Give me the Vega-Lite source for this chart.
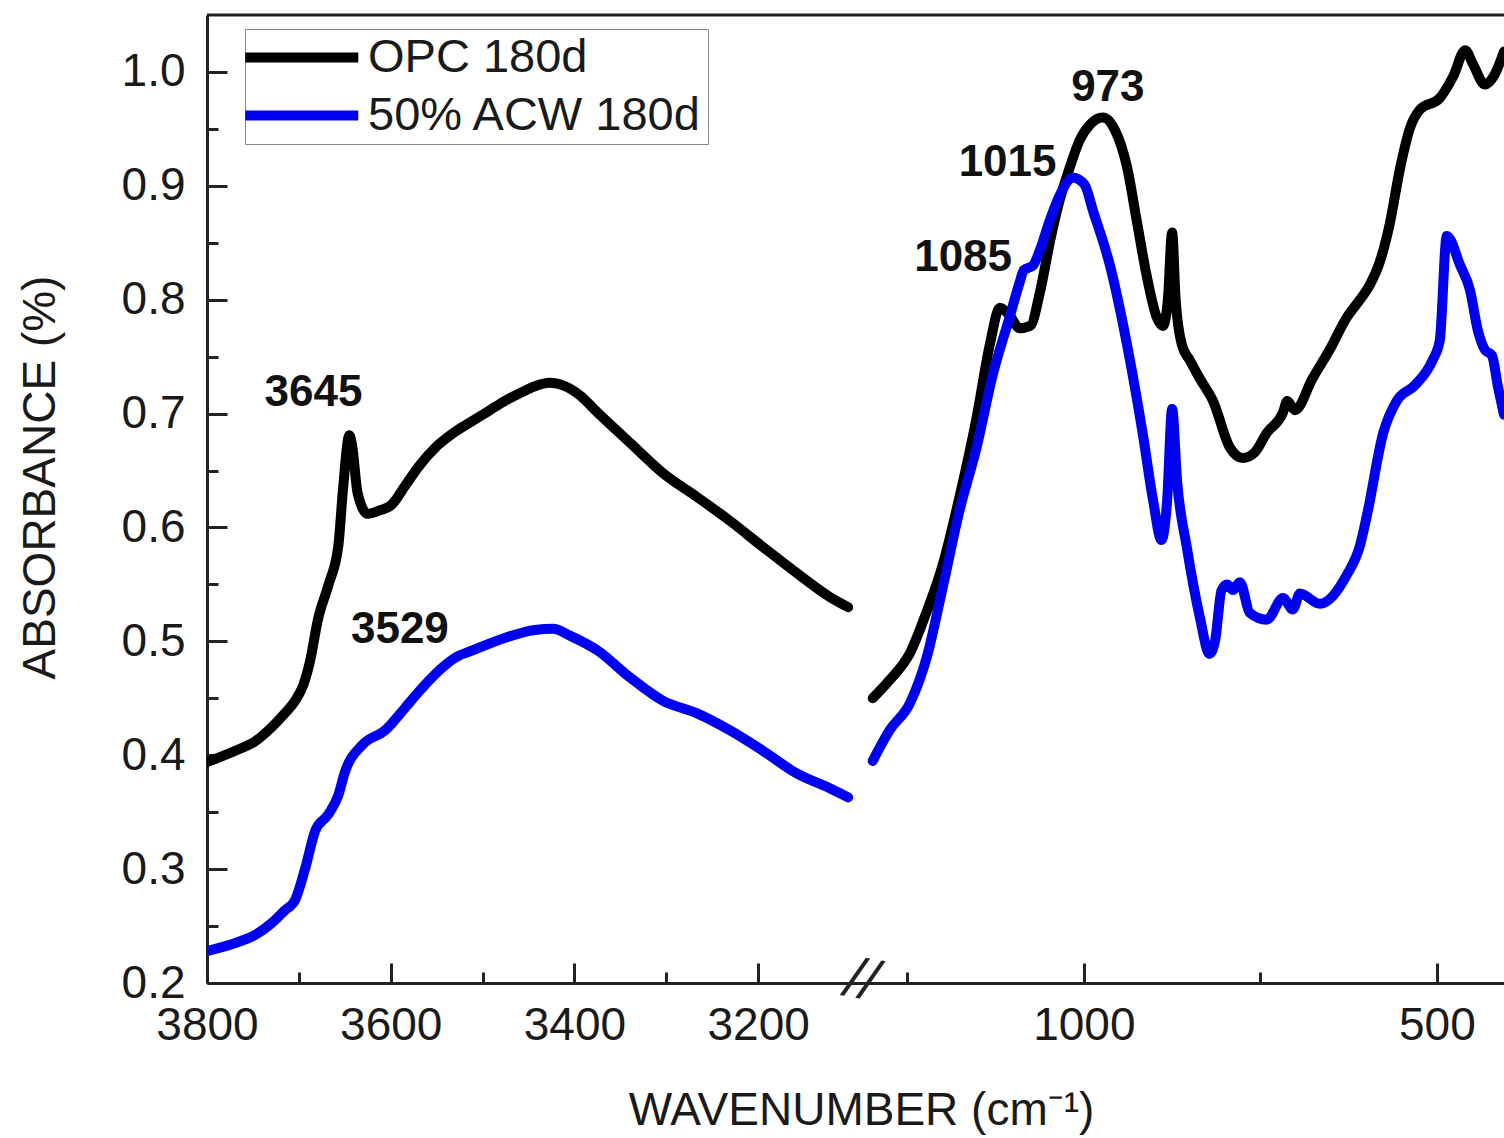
{
  "$schema": "https://vega.github.io/schema/vega-lite/v6.json",
  "width": 1297,
  "height": 968,
  "autosize": {"type": "none"},
  "padding": {"left": 207, "top": 15, "right": 0, "bottom": 155},
  "background": "white",
  "config": {
    "view": {"stroke": null},
    "font": "Liberation Sans",
    "axis": {
      "domainColor": "#222",
      "domainWidth": 3,
      "tickColor": "#222",
      "tickWidth": 3,
      "grid": false,
      "labelFont": "Liberation Sans",
      "labelFontSize": 46,
      "labelColor": "#1a1a1a",
      "titleFont": "Liberation Sans",
      "titleFontSize": 46,
      "titleFontWeight": "normal",
      "titleColor": "#1a1a1a",
      "labelOverlap": false,
      "labelFlush": false,
      "labelBound": false
    }
  },
  "datasets": {
    "spectra": [
      {"s": "OPC 180d", "r": "hi", "wn": 3800, "a": 0.394},
      {"s": "OPC 180d", "r": "hi", "wn": 3766, "a": 0.405},
      {"s": "OPC 180d", "r": "hi", "wn": 3748, "a": 0.412},
      {"s": "OPC 180d", "r": "hi", "wn": 3729, "a": 0.425},
      {"s": "OPC 180d", "r": "hi", "wn": 3715, "a": 0.437},
      {"s": "OPC 180d", "r": "hi", "wn": 3704, "a": 0.448},
      {"s": "OPC 180d", "r": "hi", "wn": 3695, "a": 0.462},
      {"s": "OPC 180d", "r": "hi", "wn": 3688, "a": 0.482},
      {"s": "OPC 180d", "r": "hi", "wn": 3679, "a": 0.52},
      {"s": "OPC 180d", "r": "hi", "wn": 3668, "a": 0.549},
      {"s": "OPC 180d", "r": "hi", "wn": 3657, "a": 0.584},
      {"s": "OPC 180d", "r": "hi", "wn": 3652, "a": 0.633},
      {"s": "OPC 180d", "r": "hi", "wn": 3645, "a": 0.681},
      {"s": "OPC 180d", "r": "hi", "wn": 3642, "a": 0.672},
      {"s": "OPC 180d", "r": "hi", "wn": 3636, "a": 0.63},
      {"s": "OPC 180d", "r": "hi", "wn": 3625, "a": 0.612},
      {"s": "OPC 180d", "r": "hi", "wn": 3612, "a": 0.615},
      {"s": "OPC 180d", "r": "hi", "wn": 3599, "a": 0.62},
      {"s": "OPC 180d", "r": "hi", "wn": 3584, "a": 0.637},
      {"s": "OPC 180d", "r": "hi", "wn": 3570, "a": 0.653},
      {"s": "OPC 180d", "r": "hi", "wn": 3549, "a": 0.672},
      {"s": "OPC 180d", "r": "hi", "wn": 3530, "a": 0.684},
      {"s": "OPC 180d", "r": "hi", "wn": 3512, "a": 0.693},
      {"s": "OPC 180d", "r": "hi", "wn": 3492, "a": 0.703},
      {"s": "OPC 180d", "r": "hi", "wn": 3476, "a": 0.711},
      {"s": "OPC 180d", "r": "hi", "wn": 3459, "a": 0.718},
      {"s": "OPC 180d", "r": "hi", "wn": 3443, "a": 0.724},
      {"s": "OPC 180d", "r": "hi", "wn": 3427, "a": 0.727},
      {"s": "OPC 180d", "r": "hi", "wn": 3410, "a": 0.724},
      {"s": "OPC 180d", "r": "hi", "wn": 3394, "a": 0.716},
      {"s": "OPC 180d", "r": "hi", "wn": 3375, "a": 0.701},
      {"s": "OPC 180d", "r": "hi", "wn": 3339, "a": 0.674},
      {"s": "OPC 180d", "r": "hi", "wn": 3304, "a": 0.648},
      {"s": "OPC 180d", "r": "hi", "wn": 3267, "a": 0.627},
      {"s": "OPC 180d", "r": "hi", "wn": 3231, "a": 0.606},
      {"s": "OPC 180d", "r": "hi", "wn": 3195, "a": 0.583},
      {"s": "OPC 180d", "r": "hi", "wn": 3158, "a": 0.56},
      {"s": "OPC 180d", "r": "hi", "wn": 3122, "a": 0.539},
      {"s": "OPC 180d", "r": "hi", "wn": 3102, "a": 0.53},
      {"s": "OPC 180d", "r": "lo", "wn": 1299, "a": 0.45},
      {"s": "OPC 180d", "r": "lo", "wn": 1275, "a": 0.466},
      {"s": "OPC 180d", "r": "lo", "wn": 1246, "a": 0.49},
      {"s": "OPC 180d", "r": "lo", "wn": 1222, "a": 0.527},
      {"s": "OPC 180d", "r": "lo", "wn": 1200, "a": 0.567},
      {"s": "OPC 180d", "r": "lo", "wn": 1176, "a": 0.627},
      {"s": "OPC 180d", "r": "lo", "wn": 1152, "a": 0.696},
      {"s": "OPC 180d", "r": "lo", "wn": 1133, "a": 0.761},
      {"s": "OPC 180d", "r": "lo", "wn": 1119, "a": 0.793},
      {"s": "OPC 180d", "r": "lo", "wn": 1105, "a": 0.786},
      {"s": "OPC 180d", "r": "lo", "wn": 1091, "a": 0.775},
      {"s": "OPC 180d", "r": "lo", "wn": 1076, "a": 0.777},
      {"s": "OPC 180d", "r": "lo", "wn": 1062, "a": 0.807},
      {"s": "OPC 180d", "r": "lo", "wn": 1048, "a": 0.851},
      {"s": "OPC 180d", "r": "lo", "wn": 1034, "a": 0.888},
      {"s": "OPC 180d", "r": "lo", "wn": 1020, "a": 0.916},
      {"s": "OPC 180d", "r": "lo", "wn": 1006, "a": 0.94},
      {"s": "OPC 180d", "r": "lo", "wn": 991, "a": 0.954},
      {"s": "OPC 180d", "r": "lo", "wn": 973, "a": 0.96},
      {"s": "OPC 180d", "r": "lo", "wn": 956, "a": 0.949},
      {"s": "OPC 180d", "r": "lo", "wn": 939, "a": 0.917},
      {"s": "OPC 180d", "r": "lo", "wn": 925, "a": 0.869},
      {"s": "OPC 180d", "r": "lo", "wn": 911, "a": 0.821},
      {"s": "OPC 180d", "r": "lo", "wn": 897, "a": 0.785},
      {"s": "OPC 180d", "r": "lo", "wn": 888, "a": 0.777},
      {"s": "OPC 180d", "r": "lo", "wn": 881, "a": 0.8},
      {"s": "OPC 180d", "r": "lo", "wn": 875, "a": 0.859},
      {"s": "OPC 180d", "r": "lo", "wn": 870, "a": 0.8},
      {"s": "OPC 180d", "r": "lo", "wn": 861, "a": 0.76},
      {"s": "OPC 180d", "r": "lo", "wn": 850, "a": 0.747},
      {"s": "OPC 180d", "r": "lo", "wn": 836, "a": 0.731},
      {"s": "OPC 180d", "r": "lo", "wn": 817, "a": 0.711},
      {"s": "OPC 180d", "r": "lo", "wn": 793, "a": 0.67},
      {"s": "OPC 180d", "r": "lo", "wn": 775, "a": 0.661},
      {"s": "OPC 180d", "r": "lo", "wn": 758, "a": 0.666},
      {"s": "OPC 180d", "r": "lo", "wn": 741, "a": 0.683},
      {"s": "OPC 180d", "r": "lo", "wn": 718, "a": 0.701},
      {"s": "OPC 180d", "r": "lo", "wn": 712, "a": 0.711},
      {"s": "OPC 180d", "r": "lo", "wn": 701, "a": 0.703},
      {"s": "OPC 180d", "r": "lo", "wn": 676, "a": 0.731},
      {"s": "OPC 180d", "r": "lo", "wn": 652, "a": 0.756},
      {"s": "OPC 180d", "r": "lo", "wn": 628, "a": 0.784},
      {"s": "OPC 180d", "r": "lo", "wn": 609, "a": 0.8},
      {"s": "OPC 180d", "r": "lo", "wn": 595, "a": 0.813},
      {"s": "OPC 180d", "r": "lo", "wn": 581, "a": 0.833},
      {"s": "OPC 180d", "r": "lo", "wn": 567, "a": 0.866},
      {"s": "OPC 180d", "r": "lo", "wn": 552, "a": 0.916},
      {"s": "OPC 180d", "r": "lo", "wn": 538, "a": 0.951},
      {"s": "OPC 180d", "r": "lo", "wn": 524, "a": 0.967},
      {"s": "OPC 180d", "r": "lo", "wn": 496, "a": 0.977},
      {"s": "OPC 180d", "r": "lo", "wn": 477, "a": 0.996},
      {"s": "OPC 180d", "r": "lo", "wn": 460, "a": 1.019},
      {"s": "OPC 180d", "r": "lo", "wn": 449, "a": 1.007},
      {"s": "OPC 180d", "r": "lo", "wn": 432, "a": 0.989},
      {"s": "OPC 180d", "r": "lo", "wn": 418, "a": 0.998},
      {"s": "OPC 180d", "r": "lo", "wn": 405, "a": 1.018},
      {"s": "50% ACW 180d", "r": "hi", "wn": 3800, "a": 0.228},
      {"s": "50% ACW 180d", "r": "hi", "wn": 3766, "a": 0.236},
      {"s": "50% ACW 180d", "r": "hi", "wn": 3748, "a": 0.242},
      {"s": "50% ACW 180d", "r": "hi", "wn": 3729, "a": 0.253},
      {"s": "50% ACW 180d", "r": "hi", "wn": 3715, "a": 0.264},
      {"s": "50% ACW 180d", "r": "hi", "wn": 3704, "a": 0.273},
      {"s": "50% ACW 180d", "r": "hi", "wn": 3693, "a": 0.301},
      {"s": "50% ACW 180d", "r": "hi", "wn": 3682, "a": 0.334},
      {"s": "50% ACW 180d", "r": "hi", "wn": 3668, "a": 0.348},
      {"s": "50% ACW 180d", "r": "hi", "wn": 3657, "a": 0.365},
      {"s": "50% ACW 180d", "r": "hi", "wn": 3650, "a": 0.385},
      {"s": "50% ACW 180d", "r": "hi", "wn": 3631, "a": 0.409},
      {"s": "50% ACW 180d", "r": "hi", "wn": 3606, "a": 0.422},
      {"s": "50% ACW 180d", "r": "hi", "wn": 3584, "a": 0.442},
      {"s": "50% ACW 180d", "r": "hi", "wn": 3566, "a": 0.459},
      {"s": "50% ACW 180d", "r": "hi", "wn": 3541, "a": 0.479},
      {"s": "50% ACW 180d", "r": "hi", "wn": 3529, "a": 0.486},
      {"s": "50% ACW 180d", "r": "hi", "wn": 3511, "a": 0.492},
      {"s": "50% ACW 180d", "r": "hi", "wn": 3476, "a": 0.503},
      {"s": "50% ACW 180d", "r": "hi", "wn": 3443, "a": 0.51},
      {"s": "50% ACW 180d", "r": "hi", "wn": 3423, "a": 0.511},
      {"s": "50% ACW 180d", "r": "hi", "wn": 3405, "a": 0.505},
      {"s": "50% ACW 180d", "r": "hi", "wn": 3375, "a": 0.492},
      {"s": "50% ACW 180d", "r": "hi", "wn": 3339, "a": 0.468},
      {"s": "50% ACW 180d", "r": "hi", "wn": 3304, "a": 0.448},
      {"s": "50% ACW 180d", "r": "hi", "wn": 3267, "a": 0.437},
      {"s": "50% ACW 180d", "r": "hi", "wn": 3231, "a": 0.422},
      {"s": "50% ACW 180d", "r": "hi", "wn": 3195, "a": 0.404},
      {"s": "50% ACW 180d", "r": "hi", "wn": 3158, "a": 0.384},
      {"s": "50% ACW 180d", "r": "hi", "wn": 3122, "a": 0.371},
      {"s": "50% ACW 180d", "r": "hi", "wn": 3102, "a": 0.363},
      {"s": "50% ACW 180d", "r": "lo", "wn": 1299, "a": 0.395},
      {"s": "50% ACW 180d", "r": "lo", "wn": 1275, "a": 0.422},
      {"s": "50% ACW 180d", "r": "lo", "wn": 1246, "a": 0.446},
      {"s": "50% ACW 180d", "r": "lo", "wn": 1222, "a": 0.487},
      {"s": "50% ACW 180d", "r": "lo", "wn": 1200, "a": 0.547},
      {"s": "50% ACW 180d", "r": "lo", "wn": 1176, "a": 0.615},
      {"s": "50% ACW 180d", "r": "lo", "wn": 1152, "a": 0.67},
      {"s": "50% ACW 180d", "r": "lo", "wn": 1129, "a": 0.734},
      {"s": "50% ACW 180d", "r": "lo", "wn": 1105, "a": 0.785},
      {"s": "50% ACW 180d", "r": "lo", "wn": 1091, "a": 0.815},
      {"s": "50% ACW 180d", "r": "lo", "wn": 1085, "a": 0.826},
      {"s": "50% ACW 180d", "r": "lo", "wn": 1072, "a": 0.83},
      {"s": "50% ACW 180d", "r": "lo", "wn": 1062, "a": 0.844},
      {"s": "50% ACW 180d", "r": "lo", "wn": 1048, "a": 0.87},
      {"s": "50% ACW 180d", "r": "lo", "wn": 1034, "a": 0.892},
      {"s": "50% ACW 180d", "r": "lo", "wn": 1015, "a": 0.907},
      {"s": "50% ACW 180d", "r": "lo", "wn": 999, "a": 0.901},
      {"s": "50% ACW 180d", "r": "lo", "wn": 987, "a": 0.878},
      {"s": "50% ACW 180d", "r": "lo", "wn": 963, "a": 0.83},
      {"s": "50% ACW 180d", "r": "lo", "wn": 939, "a": 0.761},
      {"s": "50% ACW 180d", "r": "lo", "wn": 916, "a": 0.68},
      {"s": "50% ACW 180d", "r": "lo", "wn": 902, "a": 0.624},
      {"s": "50% ACW 180d", "r": "lo", "wn": 890, "a": 0.589},
      {"s": "50% ACW 180d", "r": "lo", "wn": 882, "a": 0.624},
      {"s": "50% ACW 180d", "r": "lo", "wn": 875, "a": 0.704},
      {"s": "50% ACW 180d", "r": "lo", "wn": 868, "a": 0.641},
      {"s": "50% ACW 180d", "r": "lo", "wn": 854, "a": 0.582},
      {"s": "50% ACW 180d", "r": "lo", "wn": 836, "a": 0.522},
      {"s": "50% ACW 180d", "r": "lo", "wn": 822, "a": 0.489},
      {"s": "50% ACW 180d", "r": "lo", "wn": 814, "a": 0.501},
      {"s": "50% ACW 180d", "r": "lo", "wn": 805, "a": 0.545},
      {"s": "50% ACW 180d", "r": "lo", "wn": 797, "a": 0.55},
      {"s": "50% ACW 180d", "r": "lo", "wn": 789, "a": 0.545},
      {"s": "50% ACW 180d", "r": "lo", "wn": 779, "a": 0.552},
      {"s": "50% ACW 180d", "r": "lo", "wn": 765, "a": 0.525},
      {"s": "50% ACW 180d", "r": "lo", "wn": 741, "a": 0.519},
      {"s": "50% ACW 180d", "r": "lo", "wn": 718, "a": 0.538},
      {"s": "50% ACW 180d", "r": "lo", "wn": 704, "a": 0.528},
      {"s": "50% ACW 180d", "r": "lo", "wn": 694, "a": 0.542},
      {"s": "50% ACW 180d", "r": "lo", "wn": 666, "a": 0.533},
      {"s": "50% ACW 180d", "r": "lo", "wn": 628, "a": 0.558},
      {"s": "50% ACW 180d", "r": "lo", "wn": 609, "a": 0.584},
      {"s": "50% ACW 180d", "r": "lo", "wn": 599, "a": 0.611},
      {"s": "50% ACW 180d", "r": "lo", "wn": 576, "a": 0.683},
      {"s": "50% ACW 180d", "r": "lo", "wn": 557, "a": 0.711},
      {"s": "50% ACW 180d", "r": "lo", "wn": 531, "a": 0.725},
      {"s": "50% ACW 180d", "r": "lo", "wn": 506, "a": 0.747},
      {"s": "50% ACW 180d", "r": "lo", "wn": 496, "a": 0.764},
      {"s": "50% ACW 180d", "r": "lo", "wn": 486, "a": 0.856},
      {"s": "50% ACW 180d", "r": "lo", "wn": 467, "a": 0.83},
      {"s": "50% ACW 180d", "r": "lo", "wn": 453, "a": 0.808},
      {"s": "50% ACW 180d", "r": "lo", "wn": 442, "a": 0.773},
      {"s": "50% ACW 180d", "r": "lo", "wn": 432, "a": 0.756},
      {"s": "50% ACW 180d", "r": "lo", "wn": 422, "a": 0.751},
      {"s": "50% ACW 180d", "r": "lo", "wn": 414, "a": 0.725},
      {"s": "50% ACW 180d", "r": "lo", "wn": 405, "a": 0.699}
    ],
    "peaks": [
      {"t": "3645", "wn": 3684, "a": 0.718},
      {"t": "3529", "wn": 3590, "a": 0.51},
      {"t": "1085", "wn": 1171, "a": 0.837},
      {"t": "1015", "wn": 1108, "a": 0.92},
      {"t": "973", "wn": 966, "a": 0.986}
    ],
    "frame": [{"top": 1.05}],
    "axisBreak": [{"wn": 2200, "a": 0.2, "mark": "//"}]
  },
  "layer": [
    {
      "data": {"name": "spectra"},
      "transform": [{"filter": "datum.s === 'OPC 180d'"}],
      "mark": {"type": "line", "strokeWidth": 10, "interpolate": "monotone", "strokeCap": "round", "strokeJoin": "round", "clip": true},
      "encoding": {
        "x": {
          "field": "wn", "type": "quantitative",
          "scale": {"domain": [3800, 3100, 1300, 405], "range": [0, 643, 665, 1297], "nice": false, "zero": false},
          "axis": {
            "title": "WAVENUMBER (cm⁻¹)",
            "titleX": 654, "titleY": 127, "titleAlign": "center", "titleBaseline": "middle",
            "values": [3800, 3700, 3600, 3500, 3400, 3300, 3200, 1250, 1000, 750, 500],
            "format": "d",
            "labelExpr": "indexof([3800, 3600, 3400, 3200, 1000, 500], datum.value) >= 0 ? datum.label : ''",
            "tickSize": {"condition": {"test": "indexof([3800, 3600, 3400, 3200, 1000, 500], datum.value) < 0", "value": -11}, "value": -20},
            "labelPadding": 40
          }
        },
        "y": {
          "field": "a", "type": "quantitative",
          "scale": {"domain": [0.2, 1.05], "nice": false, "zero": false},
          "axis": {
            "title": "ABSORBANCE (%)",
            "titleX": -167, "titleY": 462, "titleAngle": -90, "titleAlign": "center", "titleBaseline": "middle",
            "values": [0.2, 0.25, 0.3, 0.35, 0.4, 0.45, 0.5, 0.55, 0.6, 0.65, 0.7, 0.75, 0.8, 0.85, 0.9, 0.95, 1.0],
            "format": ".1f",
            "labelExpr": "abs(datum.value * 10 - round(datum.value * 10)) < 0.01 ? datum.label : ''",
            "tickSize": {"condition": {"test": "abs(datum.value * 10 - round(datum.value * 10)) > 0.01", "value": -11}, "value": -20},
            "labelPadding": 42
          }
        },
        "color": {
          "field": "s", "type": "nominal",
          "scale": {"domain": ["OPC 180d", "50% ACW 180d"], "range": ["#000000", "#0000f0"]},
          "legend": {
            "title": null,
            "orient": "none", "legendX": 38, "legendY": 14,
            "symbolType": "M-2.5,0H7.5", "symbolSize": 511, "symbolStrokeWidth": 10,
            "labelFont": "Liberation Sans", "labelFontSize": 47, "labelColor": "#1a1a1a",
            "labelLimit": 0, "labelOffset": 71, "rowPadding": 10,
            "strokeColor": "#888", "fillColor": "white", "padding": 5
          }
        },
        "detail": {"field": "r"}
      }
    },
    {
      "data": {"name": "spectra"},
      "transform": [{"filter": "datum.s === '50% ACW 180d'"}],
      "mark": {"type": "line", "strokeWidth": 10, "interpolate": "monotone", "strokeCap": "round", "strokeJoin": "round", "clip": true},
      "encoding": {
        "x": {"field": "wn", "type": "quantitative"},
        "y": {"field": "a", "type": "quantitative"},
        "color": {"field": "s", "type": "nominal"},
        "detail": {"field": "r"}
      }
    },
    {
      "data": {"name": "peaks"},
      "mark": {"type": "text", "font": "Liberation Sans", "fontWeight": "bold", "fontSize": 44, "color": "#111", "align": "center", "baseline": "middle"},
      "encoding": {
        "x": {"field": "wn", "type": "quantitative"},
        "y": {"field": "a", "type": "quantitative"},
        "text": {"field": "t"}
      }
    },
    {
      "data": {"name": "frame"},
      "mark": {"type": "rule", "stroke": "#222", "strokeWidth": 3},
      "encoding": {"y": {"field": "top", "type": "quantitative"}}
    },
    {
      "data": {"name": "axisBreak"},
      "mark": {"type": "text", "font": "Liberation Sans", "fontSize": 56, "fontStyle": "italic", "angle": 10, "color": "#222", "align": "center", "baseline": "middle", "dy": -2},
      "encoding": {
        "x": {"field": "wn", "type": "quantitative"},
        "y": {"field": "a", "type": "quantitative"},
        "text": {"field": "mark"}
      }
    }
  ]
}
